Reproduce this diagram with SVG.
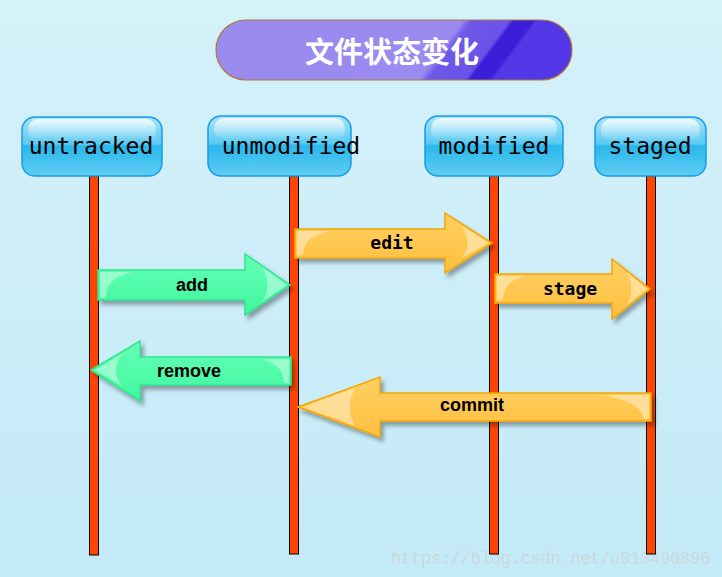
<svg xmlns="http://www.w3.org/2000/svg" width="722" height="577" viewBox="0 0 722 577">
<defs>
<linearGradient id="bg" x1="0" y1="0" x2="0" y2="1"><stop offset="0" stop-color="#d5f1fa"/><stop offset="1" stop-color="#c3eaf7"/></linearGradient>
<linearGradient id="title" gradientUnits="userSpaceOnUse" x1="240" y1="-20" x2="540" y2="205"><stop offset="0" stop-color="#9a8bef"/><stop offset="0.54" stop-color="#9b8af0"/><stop offset="0.56" stop-color="#6e58e9"/><stop offset="0.64" stop-color="#6a52e8"/><stop offset="0.65" stop-color="#3a1ed8"/><stop offset="0.69" stop-color="#3a1ed8"/><stop offset="0.70" stop-color="#5238e6"/><stop offset="1" stop-color="#5236e6"/></linearGradient>
<linearGradient id="node" x1="0" y1="0" x2="0" y2="1"><stop offset="0" stop-color="#a8e4f8"/><stop offset="0.45" stop-color="#5ccaf3"/><stop offset="0.5" stop-color="#2ab8ec"/><stop offset="1" stop-color="#5fcdf2"/></linearGradient>
<linearGradient id="gloss" x1="0" y1="0" x2="0" y2="1"><stop offset="0" stop-color="#fff" stop-opacity="0.8"/><stop offset="1" stop-color="#fff" stop-opacity="0"/></linearGradient>
<linearGradient id="green" x1="0" y1="0" x2="0" y2="1"><stop offset="0" stop-color="#66ffb8"/><stop offset="1" stop-color="#3ff79d"/></linearGradient>
<linearGradient id="orange" x1="0" y1="0" x2="0" y2="1"><stop offset="0" stop-color="#ffd064"/><stop offset="1" stop-color="#ffbf3e"/></linearGradient>
<filter id="sh" x="-10%" y="-20%" width="130%" height="150%"><feDropShadow dx="3" dy="4" stdDeviation="2" flood-color="#000" flood-opacity="0.35"/></filter>
</defs>
<style>
.node rect.b{fill:url(#node);stroke:#1b9be6;stroke-width:1.5}
.node rect.g{fill:url(#gloss)}
.node text{font-family:"DejaVu Sans Mono","Liberation Mono",monospace;font-size:23px;fill:#000;text-anchor:middle}
.life{fill:#ff4500;stroke:#000;stroke-width:1}
.ga{fill:url(#green);stroke:#2fe58c;stroke-width:1.5;filter:url(#sh)}
.oa{fill:url(#orange);stroke:#f5a600;stroke-width:1.5;filter:url(#sh)}
.hl{fill:#fff;opacity:0.4}
.lbl{font-family:"Liberation Sans",Arial,sans-serif;font-weight:bold;font-size:18px;fill:#000;text-anchor:middle}
.mlbl{font-family:"DejaVu Sans Mono","Liberation Mono",monospace;font-weight:bold;font-size:18px;fill:#000;text-anchor:middle}
</style>
<rect width="722" height="577" fill="url(#bg)"/>
<text x="391" y="564" font-family="'Liberation Mono',monospace" font-size="18" fill="#c9d9dd" textLength="319" lengthAdjust="spacingAndGlyphs">https://blog.csdn.net/u013490896</text>
<g id="title-node">
<rect x="216" y="20" width="356" height="60" rx="30" fill="url(#title)" stroke="#b07838" stroke-width="1.2"/>
<text x="392" y="63" font-family="'Noto Sans CJK SC',sans-serif" font-weight="bold" font-size="29" fill="#fff" text-anchor="middle">文件状态变化</text>
</g>
<g id="lifelines">
<rect class="life" x="89.5" y="176" width="9" height="379"/>
<rect class="life" x="289.5" y="176" width="9" height="378"/>
<rect class="life" x="489.5" y="176" width="9" height="378"/>
<rect class="life" x="646.5" y="176" width="9" height="378"/>
</g>
<g id="untracked" class="node"><rect class="b" x="22" y="117" width="140" height="59" rx="13"/><rect class="g" x="28" y="119" width="128" height="22" rx="10"/><text x="91" y="154">untracked</text></g>
<g id="unmodified" class="node"><rect class="b" x="208" y="116" width="143" height="60" rx="13"/><rect class="g" x="214" y="118" width="131" height="22" rx="10"/><text x="291" y="154">unmodified</text></g>
<g id="modified" class="node"><rect class="b" x="425" y="116" width="138" height="60" rx="13"/><rect class="g" x="431" y="118" width="126" height="22" rx="10"/><text x="494" y="154">modified</text></g>
<g id="staged" class="node"><rect class="b" x="595" y="117" width="111" height="59" rx="13"/><rect class="g" x="601" y="119" width="99" height="22" rx="10"/><text x="650" y="154">staged</text></g>
<g id="connectors">
<g id="edit">
<path class="oa" d="M295,229 L445,229 L445,213 L492,243 L445,273 L445,258 L295,258 Z"/>
<path class="hl" d="M297,231 L330,231 Q303,236 303,255 L297,256 Z"/>
<path class="hl" d="M462,226 L489,243 L462,258 Q473,243 462,226 Z"/>
<text class="mlbl" x="392" y="249">edit</text>
</g>
<g id="add">
<path class="ga" d="M98,270 L245,270 L245,254 L290,285 L245,315 L245,300 L98,300 Z"/>
<path class="hl" d="M100,272 L133,272 Q106,277 106,297 L100,298 Z"/>
<path class="hl" d="M262,267 L287,285 L262,302 Q273,285 262,267 Z"/>
<text class="lbl" x="192" y="291">add</text>
</g>
<g id="stage">
<path class="oa" d="M495,274 L612,274 L612,259 L650,289 L612,319 L612,303 L495,303 Z"/>
<path class="hl" d="M497,276 L525,276 Q503,281 503,300 L497,301 Z"/>
<path class="hl" d="M627,272 L647,289 L627,305 Q636,289 627,272 Z"/>
<text class="mlbl" x="570" y="295">stage</text>
</g>
<g id="remove">
<path class="ga" d="M91,370 L140,341 L140,357 L291,357 L291,385 L140,385 L140,401 Z"/>
<path class="hl" d="M289,359 L260,359 Q284,364 284,383 L289,383 Z"/>
<path class="hl" d="M122,354 L95,370 L122,386 Q110,370 122,354 Z"/>
<text class="lbl" x="189" y="377">remove</text>
</g>
<g id="commit">
<path class="oa" d="M298,407 L380,377 L380,393 L651,393 L651,421 L380,421 L380,437 Z"/>
<path class="hl" d="M649,395 L600,395 Q640,400 644,419 L649,419 Z"/>
<path class="hl" d="M355,388 L303,407 L355,426 Q345,407 355,388 Z"/>
<text class="lbl" x="472" y="411">commit</text>
</g>
</g>
</svg>
